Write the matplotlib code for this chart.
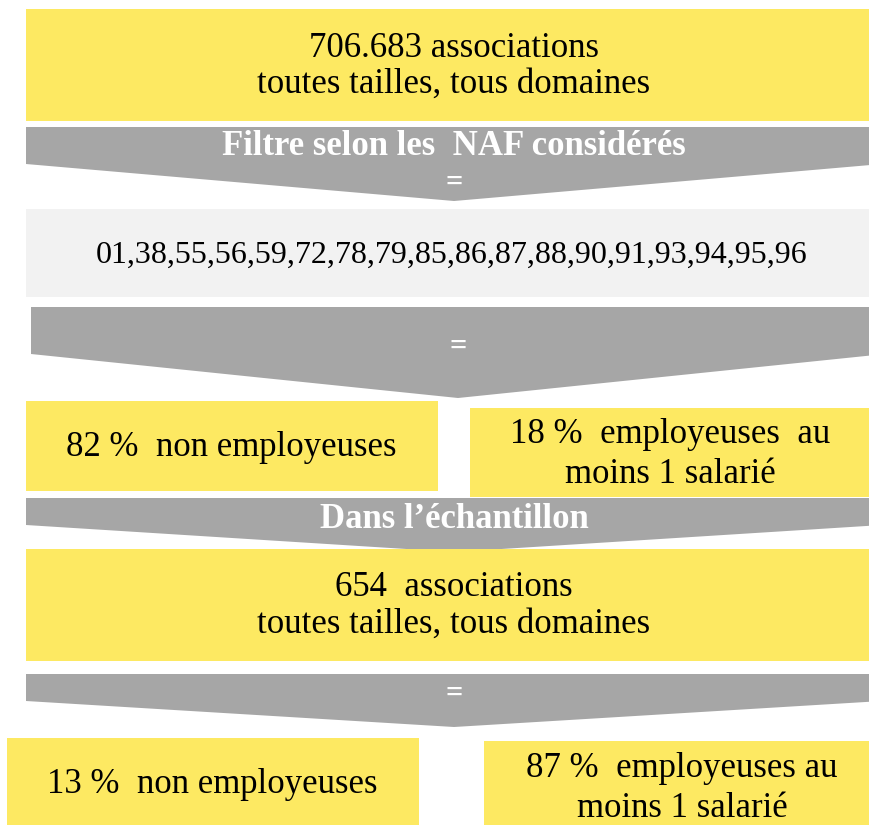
#!/usr/bin/env python3
"""Flow diagram: sampling of associations by NAF code and employer status."""
import matplotlib
matplotlib.use("Agg")
import matplotlib.pyplot as plt
from matplotlib.patches import Polygon, Rectangle

# --- content -------------------------------------------------------------
TOTAL_LABEL = ["706.683 associations", "toutes tailles, tous domaines"]
FILTER_LABEL = "Filtre selon les  NAF considérés"
NAF_CODES = ["01", "38", "55", "56", "59", "72", "78", "79", "85", "86",
             "87", "88", "90", "91", "93", "94", "95", "96"]
POP_SHARES = [82, 18]
SAMPLE_LABEL = "Dans l\u2019échantillon"
SAMPLE_SIZE = 654
SAMPLE_SHARES = [13, 87]

YELLOW = "#FDE962"
ARROW_GREY = "#A6A6A6"
LIGHT_GREY = "#F2F2F2"
FONT = "Liberation Serif"
SIZE = 25

W, H = 870, 825
fig = plt.figure(figsize=(W / 100, H / 100), dpi=100)
ax = fig.add_axes([0, 0, 1, 1])
ax.set_xlim(0, W)
ax.set_ylim(H, 0)
ax.axis("off")


def box(x0, y0, x1, y1, color):
    ax.add_patch(Rectangle((x0, y0), x1 - x0, y1 - y0, facecolor=color,
                           edgecolor="none"))


def arrow(x0, x1, top, shoulder, tip, tip_x):
    pts = [(x0, top), (x1, top), (x1, shoulder), (tip_x, tip), (x0, shoulder)]
    ax.add_patch(Polygon(pts, closed=True, facecolor=ARROW_GREY,
                         edgecolor="none"))


def label(x, y, text, size=SIZE, color="black", weight="normal"):
    # y is the baseline in pixel coordinates
    ax.text(x, y, text, ha="center", va="baseline", fontsize=size,
            color=color, fontweight=weight, family=FONT)


# total population
box(26, 9, W, 121, YELLOW)
label(454, 57, TOTAL_LABEL[0])
label(454, 93, TOTAL_LABEL[1])

# filter arrow
arrow(26, 882, 127, 164, 201, 454)
label(454, 155, FILTER_LABEL, color="white", weight="bold")
label(454, 191, "=", size=22, color="white", weight="bold")

# NAF codes
box(26, 209, W, 297, LIGHT_GREY)
label(452, 263, ",".join(NAF_CODES), size=23)

# split arrow
arrow(31, 885, 307, 354, 398, 458)
label(458, 355, "=", size=22, color="white", weight="bold")

# population split
box(26, 401, 438, 491, YELLOW)
label(231, 456, f"{POP_SHARES[0]} %  non employeuses")
box(470, 408, W, 497, YELLOW)
label(670, 443, f"{POP_SHARES[1]} %  employeuses  au")
label(670, 483, "moins 1 salarié")

# sample arrow
arrow(26, 882, 498, 525, 552, 454)
label(454, 528, SAMPLE_LABEL, color="white", weight="bold")

# sample
box(26, 549, W, 661, YELLOW)
label(454, 596, f"{SAMPLE_SIZE}  associations")
label(454, 633, TOTAL_LABEL[1])

# sample split arrow
arrow(26, 882, 674, 701, 727, 454)
label(454, 702, "=", size=22, color="white", weight="bold")

box(7, 738, 419, H, YELLOW)
label(212, 793, f"{SAMPLE_SHARES[0]} %  non employeuses")
box(484, 741, W, H, YELLOW)
label(682, 777, f"{SAMPLE_SHARES[1]} %  employeuses au")
label(682, 817, "moins 1 salarié")

fig.savefig("out.png", dpi=100)
plt.close(fig)
